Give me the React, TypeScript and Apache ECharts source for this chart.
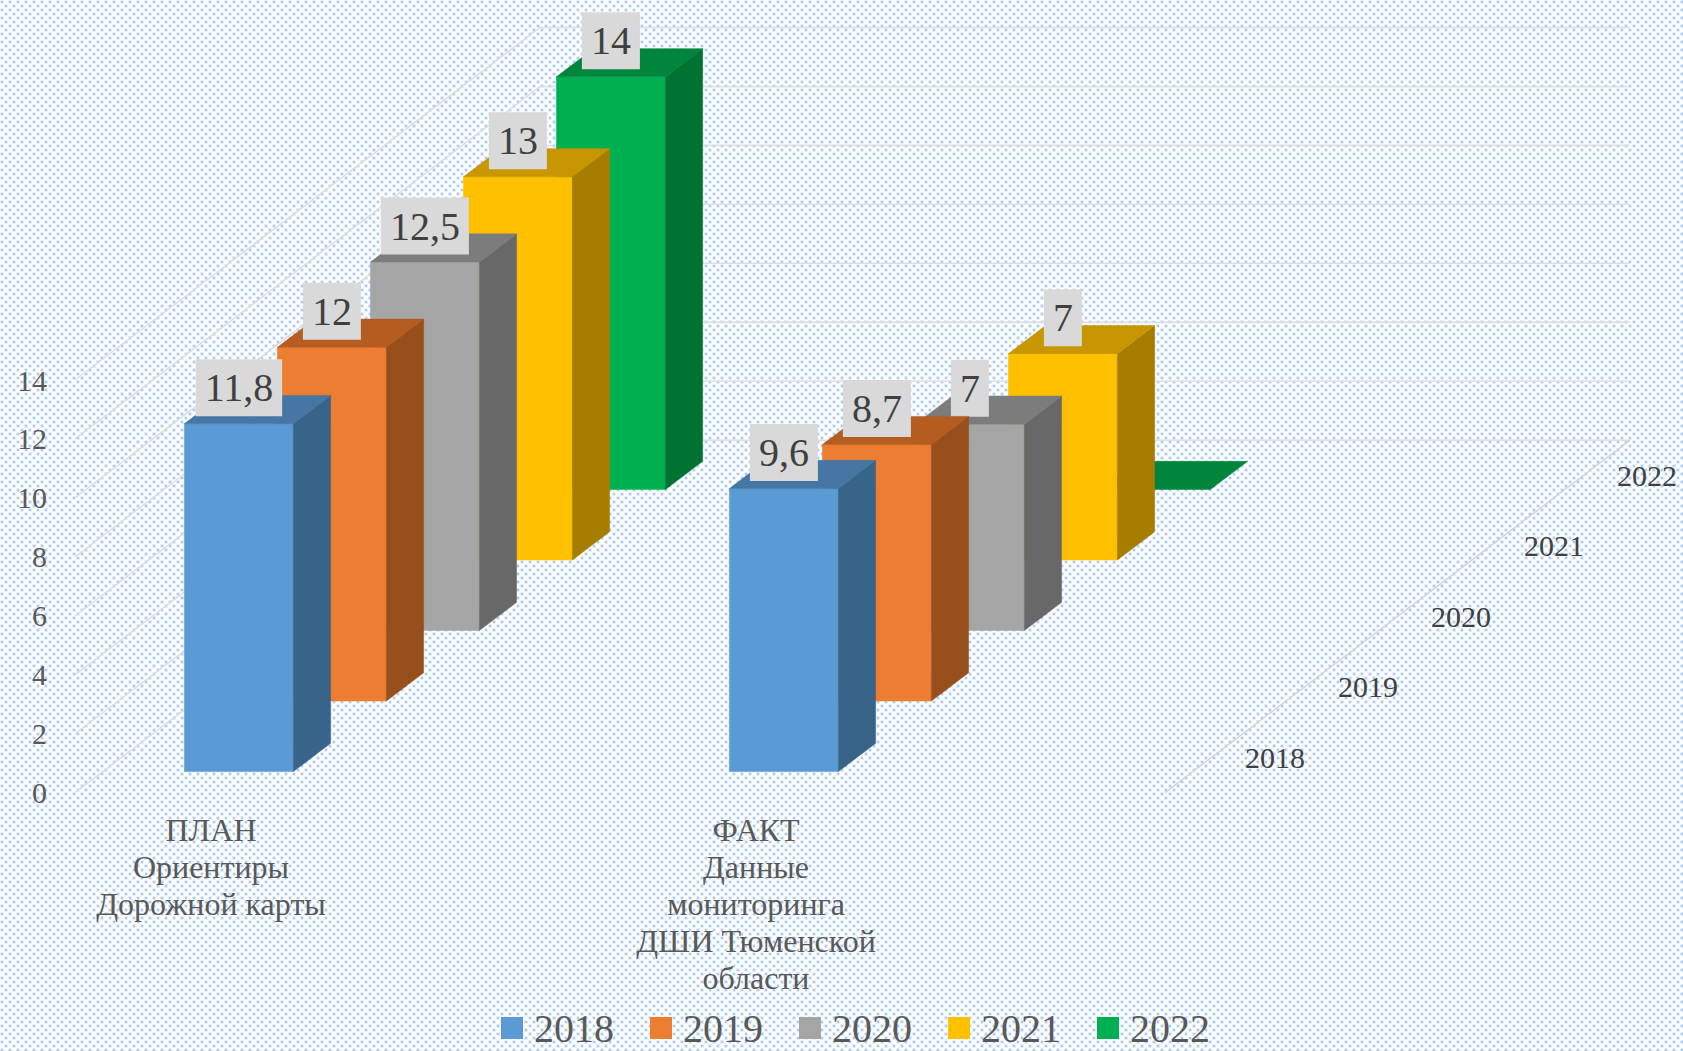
import React, { useEffect, useRef } from "react";
import * as echarts from "echarts";

const categories = ["ПЛАН\nОриентиры\nДорожной карты", "ФАКТ\nДанные\nмониторинга\nДШИ Тюменской\nобласти"];
const years = ["2018", "2019", "2020", "2021", "2022"];
const values2018 = [11.8, 9.6];
const values2019 = [12, 8.7];
const values2020 = [12.5, 7];
const values2021 = [13, 7];
const values2022 = [14, 0];
const valueTicks = [0, 2, 4, 6, 8, 10, 12, 14];

const yearValues = [values2018, values2019, values2020, values2021, values2022];
const faceColors = ["#5b9bd5", "#ed7d31", "#a5a5a5", "#ffc000", "#00b050"];
const sideColors = ["#386489", "#97501b", "#686868", "#a67d00", "#007232"];
const topColors = ["#4677a4", "#b55d21", "#7c7c7c", "#c79600", "#00853c"];

const FONT = '"Liberation Serif", "Times New Roman", serif';
const STEP_X = 93;
const STEP_Y = -70.5;
const GAP = 0.3;
const DEPTH = 0.4;
const BAR_RATIO = 0.2;
const WALL_SHIFT = 136.5;
const GRID_LEFT = -61.5;
const GRID_WIDTH = 1090;

const tile =
  "data:image/svg+xml," +
  encodeURIComponent(
    '<svg xmlns="http://www.w3.org/2000/svg" width="8" height="8"><rect width="8" height="8" fill="#fdfeff"/><rect x="0.5" y="0.5" width="3" height="3" fill="#c6dcf4"/><rect x="1" y="1" width="2" height="2" fill="#aecbee"/><rect x="4.5" y="4.5" width="3" height="3" fill="#c6dcf4"/><rect x="5" y="5" width="2" height="2" fill="#aecbee"/></svg>'
  );

function yearSeries(yearIndex: number) {
  return {
    type: "custom",
    name: years[yearIndex],
    itemStyle: { color: faceColors[yearIndex] },
    encode: { x: 0, y: 1 },
    silent: true,
    data: yearValues[yearIndex].map((v, i) => [i, v]),
    renderItem: (_p: any, api: any) => {
      const base = api.coord([api.value(0), 0]);
      const top = api.coord([api.value(0), api.value(1)]);
      const w = api.size([1, 0])[0] * BAR_RATIO;
      const dx = (GAP + yearIndex) * STEP_X;
      const dy = (GAP + yearIndex) * STEP_Y;
      const dX = DEPTH * STEP_X;
      const dY = DEPTH * STEP_Y;
      const l = base[0] - w / 2 + dx;
      const r = l + w;
      const b = base[1] + dy;
      const t = top[1] + dy;
      const v = api.value(1);
      const children: any[] = [];
      const poly = (points: number[][], fill: string) => ({ type: "polygon", shape: { points }, style: { fill, stroke: fill, lineWidth: 0.5 } });
      if (v > 0) {
        children.push(poly([[l, t], [r, t], [r, b], [l, b]], faceColors[yearIndex]));
        children.push(poly([[r, t], [r + dX, t + dY], [r + dX, b + dY], [r, b]], sideColors[yearIndex]));
      }
      children.push(poly([[l, t], [l + dX, t + dY], [r + dX, t + dY], [r, t]], topColors[yearIndex]));
      if (v > 0) {
        children.push({
          type: "text",
          x: (l + r) / 2,
          y: t - 36,
          style: {
            text: String(v).replace(".", ","),
            fontFamily: FONT,
            fontSize: 40,
            lineHeight: 47,
            fill: "#404040",
            align: "center",
            verticalAlign: "middle",
            backgroundColor: "#d9d9d9",
            padding: [5, 9, 5, 9],
          },
        });
      }
      return { type: "group", children };
    },
  };
}

const wallSeries = {
  type: "custom",
  name: "walls",
  encode: { x: 0, y: 1 },
  silent: true,
  z: 1,
  data: valueTicks.map((v) => [0, v]),
  renderItem: (p: any, api: any) => {
    const y = api.coord([0, api.value(1)])[1];
    const x0 = p.coordSys.x + WALL_SHIFT;
    const bx = x0 + STEP_X * years.length;
    const by = y + STEP_Y * years.length;
    const xr = bx + p.coordSys.width;
    const children: any[] = [
      { type: "polyline", shape: { points: [[x0, y], [bx, by], [xr, by]] }, style: { stroke: "#dedede", lineWidth: 1.5, fill: "none" } },
    ];
    if (api.value(1) === 0) {
      children.push({ type: "line", shape: { x1: x0 + p.coordSys.width, y1: y, x2: xr, y2: by }, style: { stroke: "#d4d4d4", lineWidth: 1.5 } });
    }
    return { type: "group", children };
  },
};

const depthLabelSeries = {
  type: "custom",
  name: "depth",
  encode: { x: 0, y: 1 },
  silent: true,
  z: 1,
  data: years.map((_, i) => [0, 0, i]),
  renderItem: (p: any, api: any) => {
    const y = api.coord([0, 0])[1];
    const i = api.value(2);
    const x0 = p.coordSys.x + WALL_SHIFT + p.coordSys.width;
    return {
      type: "text",
      x: x0 + (i + 0.5) * STEP_X + 63.5,
      y: y + (i + 0.5) * STEP_Y,
      style: { text: years[i], fontFamily: FONT, fontSize: 30, fill: "#404040", align: "center", verticalAlign: "middle" },
    };
  },
};

export default function App() {
  const ref = useRef<HTMLDivElement>(null);
  useEffect(() => {
    document.body.style.margin = "0";
    const chart = echarts.init(ref.current!, undefined, { renderer: "svg" });
    chart.setOption({
      animation: false,
      backgroundColor: "transparent",
      grid: { left: GRID_LEFT, width: GRID_WIDTH, top: 380, height: 412.7, containLabel: false, outerBoundsMode: "none" },
      legend: {
        data: years,
        left: 501,
        top: 1005,
        padding: 0,
        orient: "horizontal",
        icon: "rect",
        itemWidth: 22,
        itemHeight: 22,
        itemGap: 36,
        selectedMode: false,
        textStyle: { fontFamily: FONT, fontSize: 40, lineHeight: 36, color: "#595959", padding: [0, 0, 10, 6] },
      },
      xAxis: {
        type: "category",
        data: categories,
        axisLine: { show: false },
        axisTick: { show: false },
        splitLine: { show: false },
        axisLabel: { interval: 0, margin: 19, fontFamily: FONT, fontSize: 32, lineHeight: 37, color: "#595959", hideOverlap: false },
      },
      yAxis: {
        type: "value",
        min: 0,
        max: 14,
        interval: 2,
        axisLine: { show: false },
        axisTick: { show: false },
        splitLine: { show: false },
        axisLabel: { margin: -108.5, align: "right", fontFamily: FONT, fontSize: 30, color: "#595959", padding: [0, 0, 4, 0], customValues: valueTicks },
      },
      series: [wallSeries, depthLabelSeries, ...[4, 3, 2, 1, 0].map(yearSeries)],
    });
    return () => chart.dispose();
  }, []);
  return (
    <div
      ref={ref}
      style={{ width: 1683, height: 1051, backgroundImage: `url("${tile}")`, backgroundRepeat: "repeat" }}
    />
  );
}
